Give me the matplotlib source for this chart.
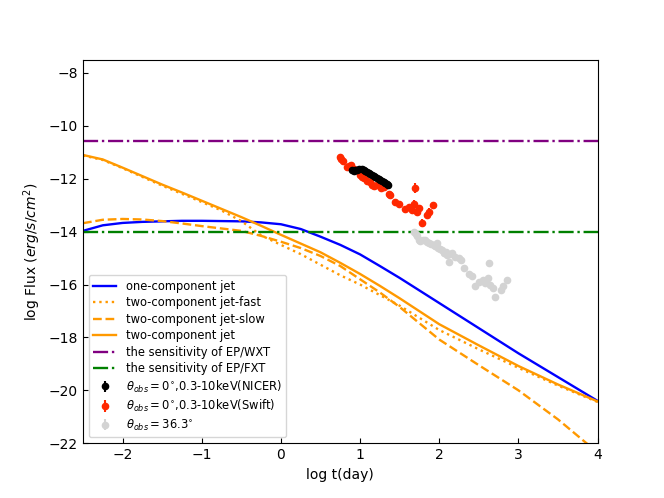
import numpy as np
import matplotlib
matplotlib.use('Agg')
import matplotlib.pyplot as plt

# model light curves (log t in days, log flux)
log_t = [-2.5, -2.25, -2.0, -1.75, -1.5, -1.25, -1.0, -0.75, -0.5, -0.25, 0.0,
         0.25, 0.5, 0.75, 1.0, 1.25, 1.5, 2.0, 2.5, 3.0, 3.5, 4.0]
one_comp = [-13.97, -13.76, -13.67, -13.63, -13.61, -13.59, -13.59, -13.60, -13.61, -13.65, -13.72,
            -13.90, -14.19, -14.50, -14.86, -15.30, -15.75, -16.70, -17.65, -18.60, -19.50, -20.40]
two_fast = [-11.12, -11.29, -11.60, -11.93, -12.26, -12.57, -12.88, -13.20, -13.60, -14.14, -14.50,
            -14.85, -15.25, -15.65, -16.00, -16.40, -16.80, -17.72, -18.45, -19.15, -19.82, -20.44]
two_slow = [-13.68, -13.55, -13.52, -13.54, -13.60, -13.69, -13.79, -13.88, -13.97, -14.16, -14.38,
            -14.62, -14.92, -15.30, -15.80, -16.30, -16.85, -18.08, -19.05, -20.00, -21.10, -22.35]
two_comp = [-11.10, -11.27, -11.58, -11.90, -12.22, -12.52, -12.83, -13.14, -13.45, -13.78, -14.12,
            -14.45, -14.78, -15.18, -15.60, -16.05, -16.52, -17.50, -18.30, -19.08, -19.78, -20.42]

sens_wxt = -10.58
sens_fxt = -14.0

# observed data
nicer_t = [0.900, 0.918, 0.940, 0.960, 0.990, 1.024, 1.045, 1.066, 1.087, 1.108, 1.130, 1.150,
           1.170, 1.190, 1.212, 1.233, 1.255, 1.276, 1.297, 1.318, 1.335, 1.347]
nicer_f = [-11.68, -11.70, -11.67, -11.66, -11.63, -11.62, -11.68, -11.72, -11.75, -11.78, -11.83, -11.87,
           -11.90, -11.95, -11.97, -12.00, -12.04, -12.08, -12.12, -12.16, -12.20, -12.25]
nicer_err = [0.06] * len(nicer_t)

swift_t = [0.740, 0.760, 0.783, 0.833, 0.860, 0.884, 0.918, 0.993, 1.020, 1.044, 1.087, 1.128, 1.150,
           1.170, 1.213, 1.263, 1.300, 1.360, 1.380, 1.444, 1.487, 1.570, 1.613, 1.655, 1.676, 1.697,
           1.720, 1.750, 1.780, 1.843, 1.876, 1.920]
swift_f = [-11.19, -11.25, -11.32, -11.57, -11.52, -11.47, -11.62, -11.87, -11.92, -11.97, -12.08, -12.13, -12.22,
           -12.29, -12.23, -12.35, -12.32, -12.57, -12.60, -12.86, -12.96, -13.14, -13.05, -13.17, -12.96, -12.35,
           -13.24, -13.11, -13.68, -13.36, -13.24, -13.01]
swift_err = [0.08, 0.08, 0.08, 0.08, 0.08, 0.08, 0.08, 0.08, 0.08, 0.08, 0.08, 0.08, 0.08,
             0.08, 0.08, 0.08, 0.08, 0.08, 0.08, 0.08, 0.08, 0.08, 0.10, 0.10, 0.15, 0.18,
             0.10, 0.12, 0.15, 0.12, 0.12, 0.15]

off_t = [1.676, 1.700, 1.720, 1.740, 1.760, 1.790, 1.824, 1.845, 1.866, 1.900, 1.930, 1.950, 1.970,
         1.990, 2.010, 2.035, 2.055, 2.080, 2.100, 2.120, 2.140, 2.160, 2.200, 2.245, 2.280, 2.307,
         2.370, 2.413, 2.455, 2.500, 2.548, 2.582, 2.625, 2.617, 2.645, 2.675, 2.710, 2.784, 2.810, 2.855]
off_f = [-14.03, -14.10, -14.16, -14.30, -14.37, -14.33, -14.31, -14.40, -14.44, -14.47, -14.50, -14.55, -14.44,
         -14.63, -14.66, -14.69, -14.82, -14.78, -14.88, -15.13, -14.86, -14.82, -14.94, -15.00, -15.07, -15.38,
         -15.60, -15.67, -16.05, -15.89, -15.83, -15.95, -15.17, -15.76, -16.00, -16.14, -16.48, -16.20, -16.05, -15.83]
off_err = [0.08] * len(off_t)

orange = '#ff9900'

fig, ax = plt.subplots(figsize=(6.64, 4.98), dpi=100)

ax.plot(log_t, one_comp, color='blue', lw=1.7, label='one-component jet')
ax.plot(log_t, two_fast, color=orange, lw=1.7, ls=':', label='two-component jet-fast')
ax.plot(log_t, two_slow, color=orange, lw=1.7, ls='--', label='two-component jet-slow')
ax.plot(log_t, two_comp, color=orange, lw=1.7, label='two-component jet')
ax.axhline(sens_wxt, color='purple', lw=1.7, ls='-.', label='the sensitivity of EP/WXT')
ax.axhline(sens_fxt, color='green', lw=1.7, ls='-.', label='the sensitivity of EP/FXT')

ax.errorbar(nicer_t, nicer_f, yerr=nicer_err, fmt='o', color='black', ms=4.5, zorder=4,
            label=r'$\theta_{obs}=0^{\circ}$,0.3-10keV(NICER)')
ax.errorbar(swift_t, swift_f, yerr=swift_err, fmt='o', color='#ff2800', ms=4.5, zorder=3,
            label=r'$\theta_{obs}=0^{\circ}$,0.3-10keV(Swift)')
ax.errorbar(off_t, off_f, yerr=off_err, fmt='o', color='lightgray', ms=4.5, zorder=3,
            label=r'$\theta_{obs}=36.3^{\circ}$')

ax.set_xlim(-2.5, 4)
ax.set_ylim(-22, -7.5)
ax.set_xticks([-2, -1, 0, 1, 2, 3, 4])
ax.set_yticks([-22, -20, -18, -16, -14, -12, -10, -8])
ax.tick_params(direction='in')
ax.set_xlabel('log t(day)')
ax.set_ylabel(r'log Flux ($erg/s/cm^2$)')
ax.legend(loc='lower left', fontsize=8.3, labelspacing=0.3, handlelength=2.0)

fig.savefig('out.png', dpi=100)
